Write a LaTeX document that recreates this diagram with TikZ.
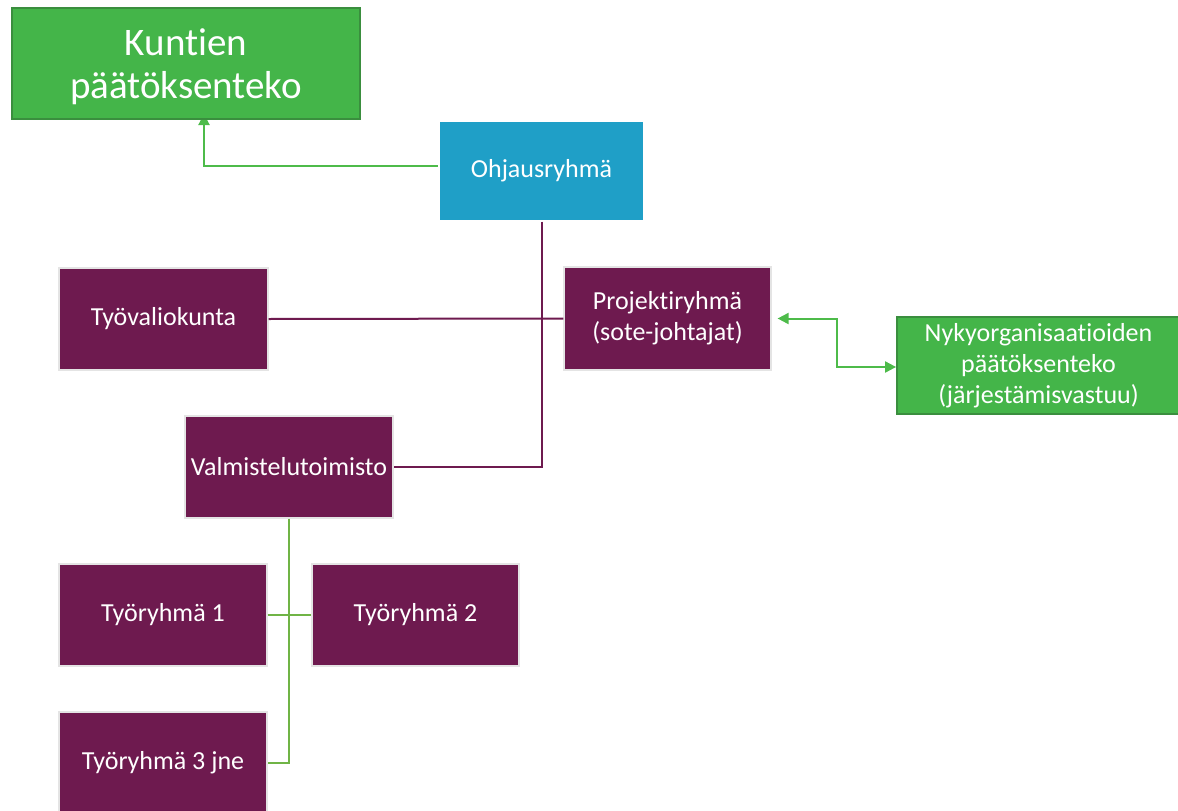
\documentclass[tikz,border=0pt]{standalone}
\usepackage{fontspec}
\setmainfont{Carlito}[Ligatures=NoCommon]
\usetikzlibrary{arrows.meta,backgrounds}
\definecolor{pgreen}{HTML}{44B549}
\definecolor{pgreenborder}{HTML}{3A8E3E}
\definecolor{pblue}{HTML}{1F9FC7}
\definecolor{ppurple}{HTML}{6E1A4F}
\definecolor{pgrey}{HTML}{E4E4E4}
\definecolor{lgreen}{HTML}{4DBB4A}
\definecolor{ygreen}{HTML}{70B446}
\begin{document}
\begin{tikzpicture}[x=1pt,y=-1pt,
  box/.style={rectangle, draw=pgrey, line width=1.2pt, fill=ppurple, text=white,
    font=\fontsize{26}{31}\selectfont, align=center, inner sep=0pt},
  greenbox/.style={box, fill=pgreen, draw=pgreenborder, line width=1.8pt},
  bluebox/.style={box, fill=pblue, draw=white},
  pline/.style={draw=ppurple, line width=2pt},
  gline/.style={draw=lgreen, line width=2pt},
  yline/.style={draw=ygreen, line width=2pt},
  tip/.style={-{Triangle[length=11pt,width=11pt]}}
]
\useasboundingbox (0,0) rectangle (1178,811);
\clip (0,0) rectangle (1178,811);
\node[greenbox, minimum width=348pt, minimum height=111pt] (kun) at (186,63.5) {};
\node[text=white, align=center, inner sep=0pt, font=\fontsize{39}{43}\selectfont] (kuntxt) at (186,67) {Kuntien\\päätöksenteko};
\node[bluebox, minimum width=205pt, minimum height=100pt] (ohj) at (541.5,171) {Ohjausryhmä};
\node[box, minimum width=209pt, minimum height=102pt] (tyov) at (163.5,319) {Työvaliokunta};
\node[box, minimum width=207pt, minimum height=103pt] (proj) at (667.5,318.5) {Projektiryhmä\\(sote-johtajat)};
\node[greenbox, minimum width=283pt, minimum height=97pt] (nyky) at (1038.5,365.5) {Nykyorganisaatioiden\\päätöksenteko\\(järjestämisvastuu)};
\node[box, minimum width=208pt, minimum height=102pt] (valm) at (289,467) {Valmistelutoimisto};
\node[box, minimum width=208pt, minimum height=102pt] (t1) at (163,615) {Työryhmä 1};
\node[box, minimum width=207pt, minimum height=102pt] (t2) at (415.5,615) {Työryhmä 2};
\node[box, minimum width=208pt, minimum height=102pt] (t3) at (163,763) {Työryhmä 3 jne};
\coordinate (kt) at (204,114);
\coordinate (ow) at ([yshift=5pt]ohj.west);
\coordinate (m1) at (837,318.5);
\coordinate (m2) at (837,367);
\begin{scope}[on background layer]
\draw[gline, tip] (ow) -| (kt);
\end{scope}
\draw[pline] (ohj.south) |- (valm.east);
\draw[pline] (tyov.east) -- (proj.west);
\draw[gline, {Triangle[length=11pt,width=11pt]}-{Triangle[length=11pt,width=11pt]}, shorten <=6pt] (proj.east) -- (m1) -- (m2) -- (m2 -| nyky.west);
\draw[yline] (valm.south) |- (t3.east);
\draw[yline] (t1.east) -- (t2.west);
\end{tikzpicture}
\end{document}
